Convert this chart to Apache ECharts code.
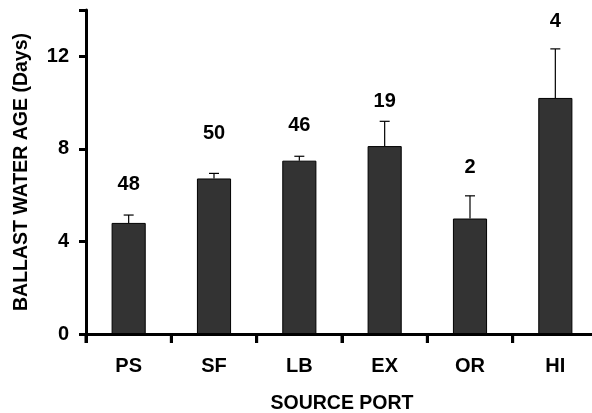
<!DOCTYPE html>
<html>
<head>
<meta charset="utf-8">
<script src="https://cdn.jsdelivr.net/npm/echarts@6/dist/echarts.min.js"></script>
<style>
  html, body { margin: 0; padding: 0; background: #fff; }
  #chart { width: 592px; height: 413px; }
</style>
</head>
<body>
<div id="chart"></div>
<script>
// Mean ballast water age by source port, with upper standard-error bars
const ports = ['PS', 'SF', 'LB', 'EX', 'OR', 'HI'];
const meanAge = [4.8, 6.72, 7.49, 8.12, 4.99, 10.2];
const errUpper = [5.14, 6.94, 7.68, 9.19, 5.97, 12.32];
const sampleSize = [48, 50, 46, 19, 2, 4];
const sampleLabelAt = [6.48, 8.65, 9.0, 10.04, 7.2, 13.5];
const yTicks = [0, 4, 8, 12];

const FONT = '"Liberation Sans", Arial, sans-serif';
const chart = echarts.init(document.getElementById('chart'));

chart.setOption({
  animation: false,
  backgroundColor: '#ffffff',
  grid: { left: 86, top: 10, width: 512, height: 324, containLabel: false, outerBoundsMode: 'none' },
  xAxis: {
    type: 'category',
    data: ports,
    boundaryGap: true,
    name: 'SOURCE PORT',
    nameLocation: 'middle',
    nameGap: 60,
    nameTextStyle: { fontFamily: FONT, fontWeight: 'bold', fontSize: 19.5, color: '#000' },
    axisLine: { show: true, lineStyle: { color: '#000', width: 3 } },
    axisTick: { show: true, interval: 0, inside: false, length: 9, lineStyle: { color: '#000', width: 3 } },
    axisLabel: { interval: 0, fontFamily: FONT, fontWeight: 'bold', fontSize: 20, color: '#000', margin: 22 },
    splitLine: { show: false }
  },
  yAxis: {
    type: 'value',
    min: 0,
    max: 14,
    interval: 4,
    name: 'BALLAST WATER AGE (Days)',
    nameLocation: 'middle',
    nameGap: 54,
    nameTextStyle: { fontFamily: FONT, fontWeight: 'bold', fontSize: 19.5, color: '#000' },
    axisLine: { show: true, lineStyle: { color: '#000', width: 3 } },
    axisTick: { show: true, length: 7, lineStyle: { color: '#000', width: 3 } },
    axisLabel: {
      fontFamily: FONT, fontWeight: 'bold', fontSize: 20, color: '#000', margin: 17,
      formatter: v => (yTicks.indexOf(v) >= 0 ? String(v) : '')
    },
    splitLine: { show: false }
  },
  series: [
    {
      type: 'bar',
      data: meanAge,
      barWidth: '40%',
      itemStyle: { color: '#333333', borderColor: '#000', borderWidth: 1 },
      z: 2
    },
    {
      // upper error whisker with a short cap
      type: 'custom',
      z: 3,
      clip: false,
      data: ports.map((p, i) => [i, meanAge[i], errUpper[i]]),
      renderItem: function (params, api) {
        const base = api.coord([api.value(0), api.value(1)]);
        const top = api.coord([api.value(0), api.value(2)]);
        const half = 5;
        const style = { stroke: '#000', lineWidth: 1.2 };
        return {
          type: 'group',
          children: [
            { type: 'line', shape: { x1: base[0], y1: base[1], x2: top[0], y2: top[1] }, style },
            { type: 'line', shape: { x1: top[0] - half, y1: top[1], x2: top[0] + half, y2: top[1] }, style }
          ]
        };
      }
    },
    {
      // tick hanging below the x axis at the left edge of each category band
      type: 'custom',
      z: 20,
      clip: false,
      silent: true,
      data: ports.map((p, i) => [i, 0]),
      renderItem: function (params, api) {
        const cs = params.coordSys;
        const idx = api.value(0);
        const x = cs.x + idx * cs.width / ports.length;
        const y = cs.y + cs.height;
        return {
          type: 'line',
          z2: 100,
          shape: { x1: x, y1: y, x2: x, y2: y + 9 },
          style: { stroke: '#000', lineWidth: 3 }
        };
      }
    },
    {
      // sample counts written above each bar
      type: 'scatter',
      symbolSize: 0,
      z: 4,
      itemStyle: { opacity: 1 },
      data: ports.map((p, i) => [i, sampleLabelAt[i], sampleSize[i]]),
      label: {
        show: true,
        position: 'inside',
        formatter: p => String(p.data[2]),
        fontFamily: FONT, fontWeight: 'bold', fontSize: 20, color: '#000',
        textBorderWidth: 0, textBorderColor: 'transparent'
      }
    }
  ]
});
</script>
</body>
</html>
